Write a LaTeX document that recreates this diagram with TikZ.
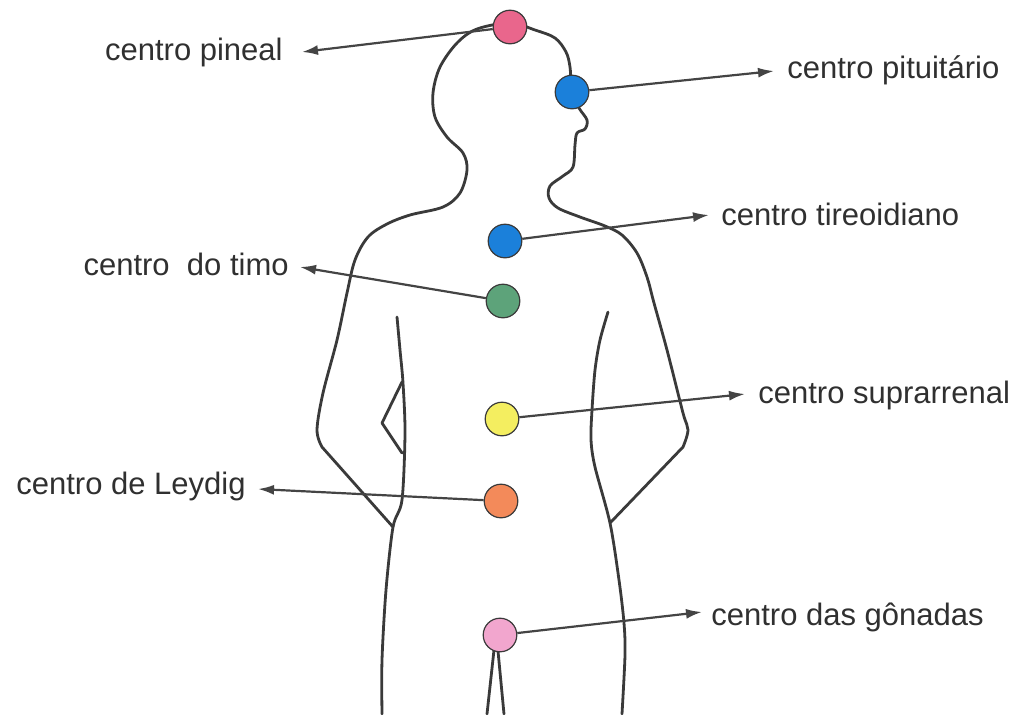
\documentclass[tikz,border=0pt]{standalone}
\usepackage{fontspec}
\setmainfont{Liberation Sans}
\usetikzlibrary{arrows.meta}
\pgfdeclarelayer{bg}
\pgfsetlayers{bg,main}
\definecolor{linha}{HTML}{3A3A3A}
\definecolor{setacinza}{HTML}{444444}
\definecolor{texto}{HTML}{303030}
\definecolor{rosa}{HTML}{E9668C}
\definecolor{azul}{HTML}{1B80DA}
\definecolor{verde}{HTML}{5DA37A}
\definecolor{amarelo}{HTML}{F4EE60}
\definecolor{laranja}{HTML}{F38A5A}
\definecolor{rosaclaro}{HTML}{F2A6CE}

\begin{document}
\begin{tikzpicture}[x=0.5pt,y=-0.5pt,
        centro/.style={circle,draw=linha,line width=0.6pt,minimum size=16.8pt,inner sep=0pt},
        seta/.style={draw=setacinza,line width=1.1pt,-{Latex[length=8pt,width=5pt]}},
        corpo/.style={draw=linha,line width=1.4pt,line cap=round,line join=round},
        rotulo/.style={inner sep=0pt,text=texto,font=\fontsize{15.5}{18}\selectfont}]
        \useasboundingbox (0,0) rectangle (1012,714);

        % centros
        \node[centro,fill=rosa] (pineal) at (510,27) {};
        \node[centro,fill=azul] (pituitaria) at (572,92) {};
        \node[centro,fill=azul] (tireoide) at (505,241) {};
        \node[centro,fill=verde] (timo) at (503,301) {};
        \node[centro,fill=amarelo] (suprarrenal) at (502,419) {};
        \node[centro,fill=laranja] (leydig) at (501,501) {};
        \node[centro,fill=rosaclaro] (gonadas) at (500,635) {};

        % rotulos
        \node[rotulo,anchor=base east] (pineal-lbl) at (283,60) {centro pineal};
        \node[rotulo,anchor=base west] (pituitaria-lbl) at (787,78) {centro pituitário};
        \node[rotulo,anchor=base west] (tireoide-lbl) at (721,225) {centro tireoidiano};
        \node[rotulo,anchor=base east] (timo-lbl) at (289,275) {centro\ \ do timo};
        \node[rotulo,anchor=base west] (suprarrenal-lbl) at (758,403) {centro suprarrenal};
        \node[rotulo,anchor=base east] (leydig-lbl) at (246,494) {centro de Leydig};
        \node[rotulo,anchor=base west] (gonadas-lbl) at (711,625) {centro das gônadas};

        % pontas das setas
        \coordinate (pineal-tip) at (302,52);
        \coordinate (pituitaria-tip) at (774,71);
        \coordinate (tireoide-tip) at (709,215);
        \coordinate (timo-tip) at (300,267);
        \coordinate (suprarrenal-tip) at (745,394);
        \coordinate (leydig-tip) at (258,489);
        \coordinate (gonadas-tip) at (702,612);

        \draw[seta] (pineal) -- (pineal-tip);
        \draw[seta] (pituitaria) -- (pituitaria-tip);
        \draw[seta] (tireoide) -- (tireoide-tip);
        \draw[seta] (timo) -- (timo-tip);
        \draw[seta] (suprarrenal) -- (suprarrenal-tip);
        \draw[seta] (leydig) -- (leydig-tip);
        \draw[seta] (gonadas) -- (gonadas-tip);

        \begin{pgfonlayer}{bg}
                % contorno: braco esq., cabeca, rosto, braco dir.
                \draw[corpo] (393,527) -- (322,447)
                        plot[smooth,tension=0.55] coordinates {(322,447) (317,430) (323,393) (337,340)
                        (347,293) (355,260) (368,237) (387,224) (410,215) (443,207) (460,193) (467,170)
                        (463,153) (447,137) (435,117) (433,93) (440,67) (457,43) (477,29) (510,23)
                        (535,30) (555,38) (566,52) (570,67) (572,92) (579,108) (587,120) (585,129)
                        (577,133) (575,145) (573,167) (563,176) (550,186) (549,198) (558,208)
                        (580,217) (605,226) (622,235) (637,253) (647,277) (654,303) (667,350)
                        (683,413) (688,430) (683,447)}
                        -- (610,523);
                % tronco esquerdo
                \draw[corpo] plot[smooth,tension=0.5] coordinates {(397,317) (400,350) (403,383)
                        (405,433) (402,500) (393,527) (386,590) (382,660) (382,714)};
                \draw[corpo] (402,382) -- (382,423) -- (402,453);
                % tronco direito
                \draw[corpo] plot[smooth,tension=0.5] coordinates {(608,312) (600,340) (595,370)
                        (592,410) (591,440) (595,467) (610,523) (619,580) (624,623) (625,655) (622,714)};
                % pernas
                \draw[corpo] (494,650) -- (487,714);
                \draw[corpo] (498,651) -- (504,714);
        \end{pgfonlayer}
\end{tikzpicture}
\end{document}
